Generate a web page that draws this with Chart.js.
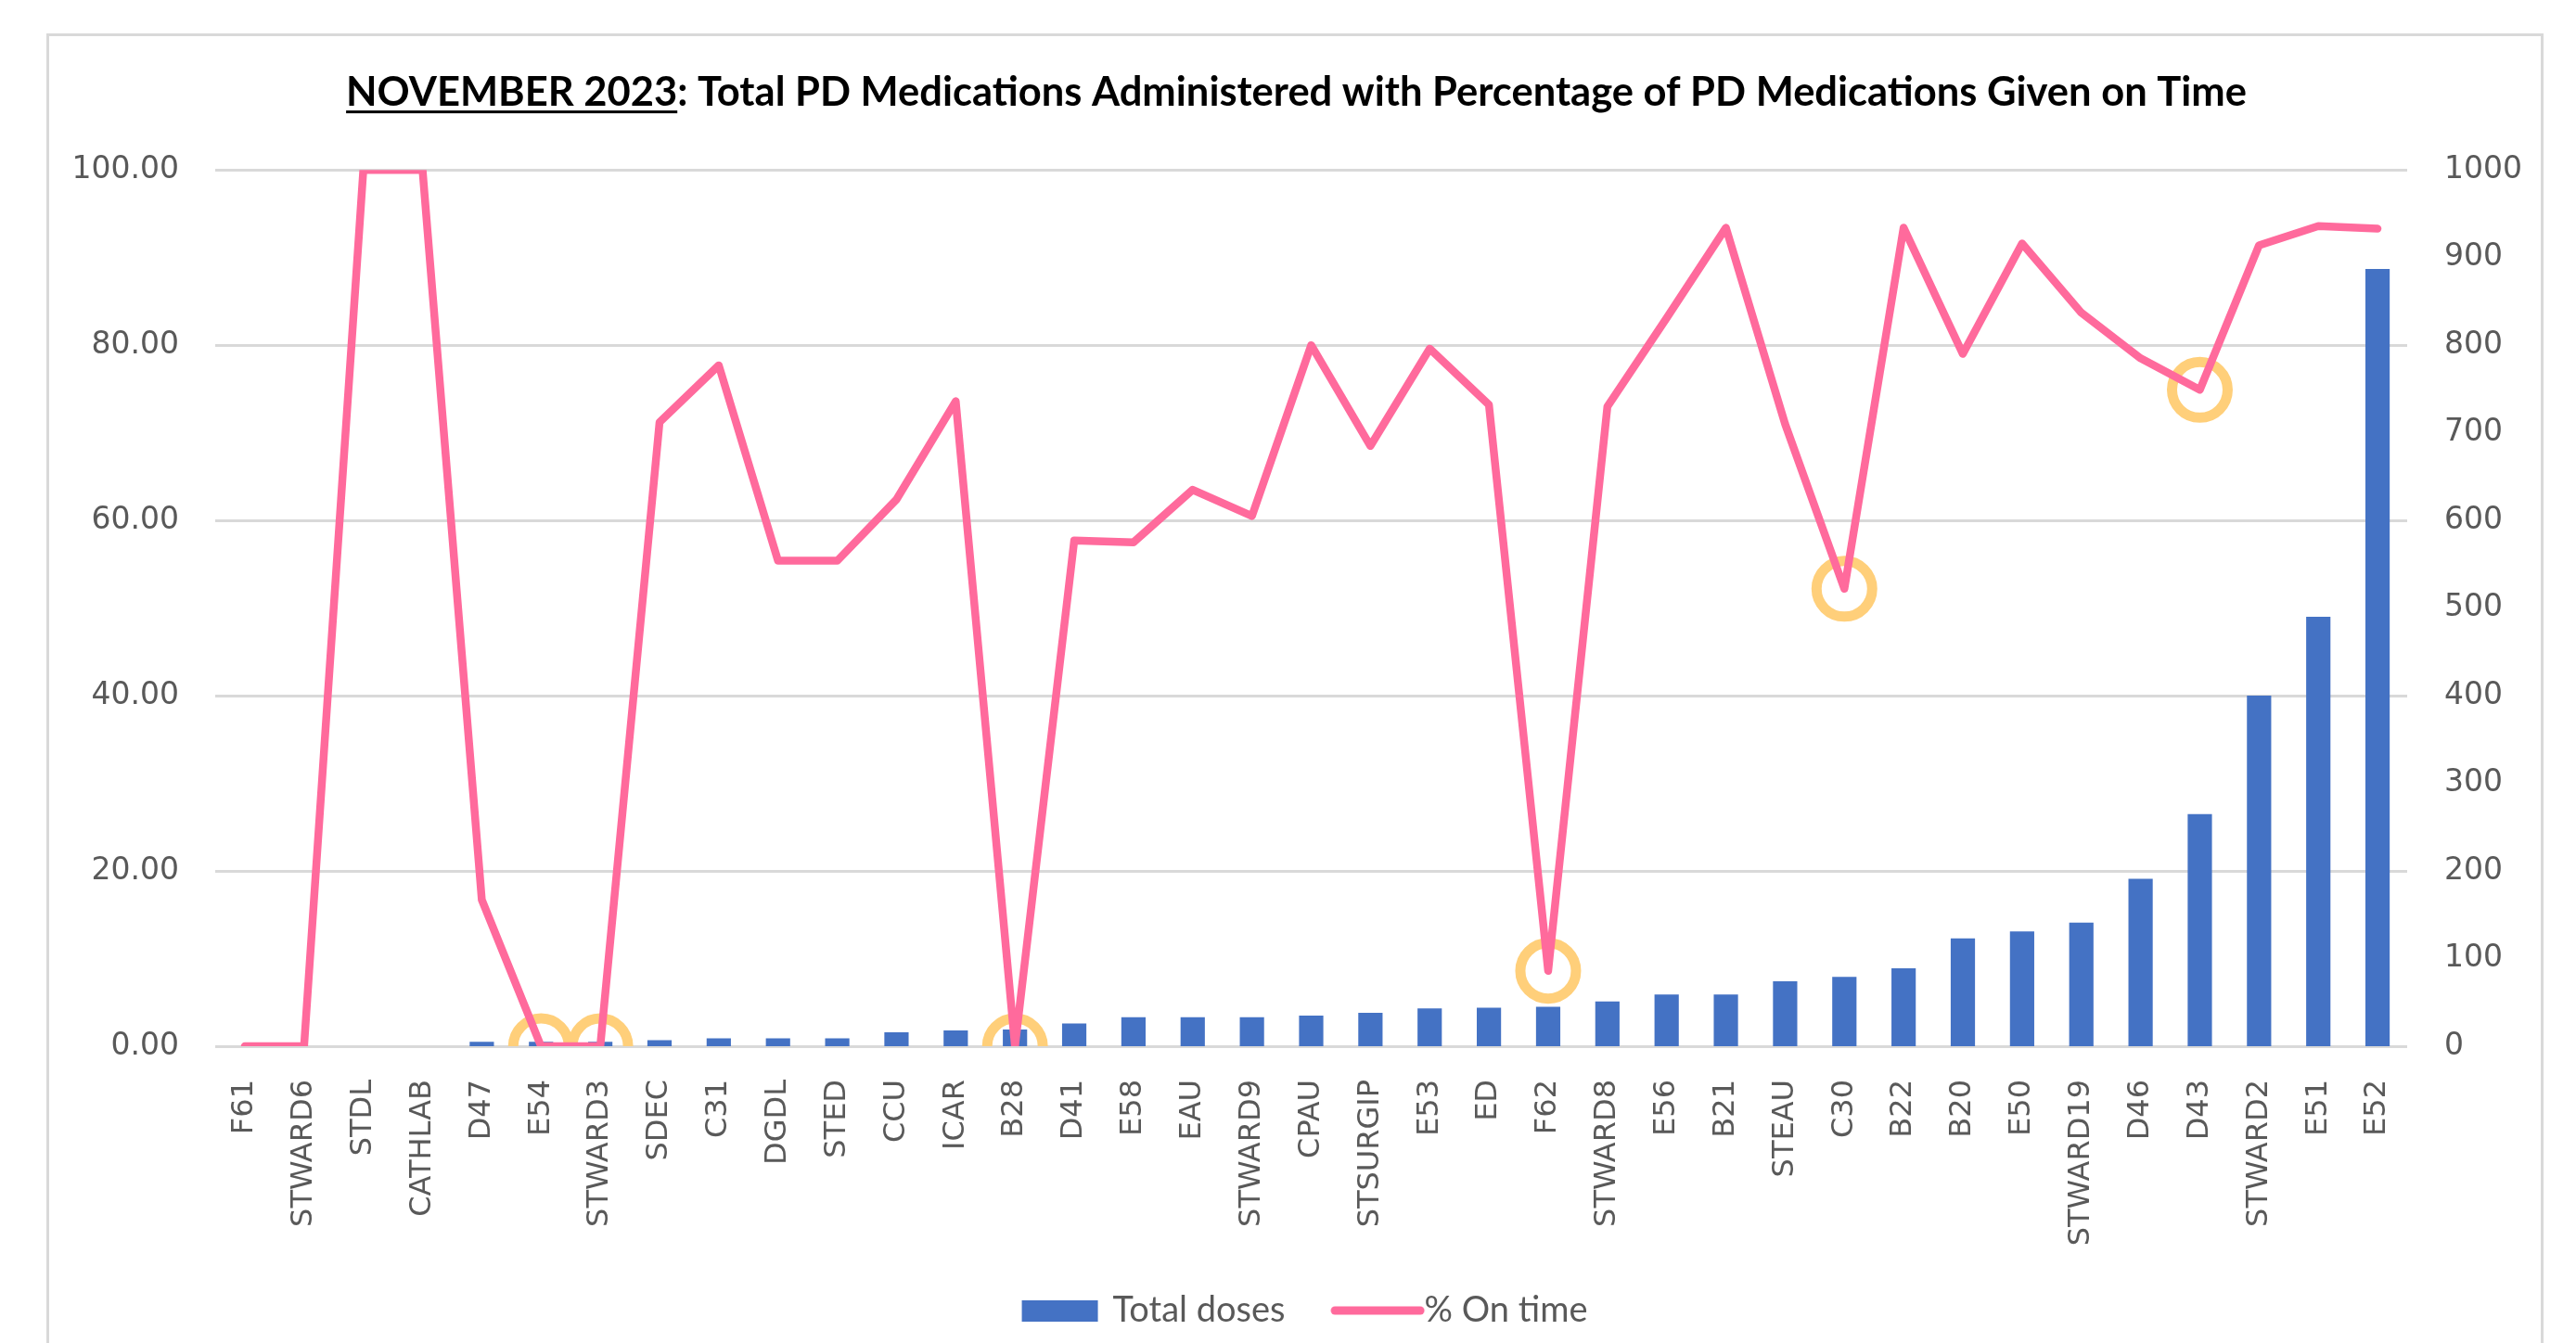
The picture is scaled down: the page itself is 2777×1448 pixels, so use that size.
<!DOCTYPE html>
<html>
<head>
<meta charset="utf-8">
<script src="https://cdn.jsdelivr.net/npm/chart.js@4.4.0/dist/chart.umd.min.js"></script>
<style>
  html, body { margin: 0; padding: 0; background: #ffffff; overflow: hidden; }
  #wrap { position: relative; width: 2777px; height: 1448px; }
  #frame { position: absolute; left: 50px; top: 36px; width: 2692px; height: 1500px; border: 3px solid #D9D9D9; box-sizing: border-box; }
  canvas { position: absolute; left: 0; top: 0; }
</style>
</head>
<body>
<div id="wrap">
  <div id="frame"></div>
  <canvas id="c" width="2777" height="1448"></canvas>
</div>
<script>
// ---- DATA ----
const wards = ['F61','STWARD6','STDL','CATHLAB','D47','E54','STWARD3','SDEC','C31','DGDL','STED','CCU','ICAR','B28','D41','E58','EAU','STWARD9','CPAU','STSURGIP','E53','ED','F62','STWARD8','E56','B21','STEAU','C30','B22','B20','E50','STWARD19','D46','D43','STWARD2','E51','E52'];
const totalDoses = [0,0,0,0,5,5,5,7,9,9,9,16,18,19,26,33,33,33,35,38,43,44,45,51,59,59,74,79,89,123,131,141,191,265,400,490,887];
const pctOnTime = [0,0,100,100,16.7,0,0,71.2,77.7,55.4,55.4,62.4,73.6,0,57.7,57.5,63.5,60.5,80.0,68.5,79.6,73.2,8.6,73.0,83.1,93.4,71.0,52.2,93.4,79.0,91.6,83.7,78.5,74.9,91.4,93.6,93.3];
const circledWards = ['E54','STWARD3','B28','F62','C30','D43'];
const leftTicks = [0, 20, 40, 60, 80, 100];
const rightTicks = [0, 100, 200, 300, 400, 500, 600, 700, 800, 900, 1000];
const titleMain = 'NOVEMBER 2023';
const titleRest = ': Total PD Medications Administered with Percentage of PD Medications Given on Time';
const seriesNames = ['Total doses', '% On time'];

// ---- STYLE ----
const BLUE = '#4472C4';
const PINK = '#FF6A9C';
const ORANGE = '#FFCF7A';
const GRID = '#D9D9D9';
const TICK = '#595959';
const TITLE_FONT = { family: 'Lato', size: 43.5, weight: 'bold' };

const circled = wards.map((w, i) => circledWards.includes(w) ? pctOnTime[i] : null);

function makeIcon(w, h, draw) {
  const c = document.createElement('canvas');
  c.width = w; c.height = h;
  draw(c.getContext('2d'));
  return c;
}
const barIcon = makeIcon(115, 23, ctx => { ctx.fillStyle = BLUE; ctx.fillRect(27, 0, 82, 23); });
const lineIcon = makeIcon(240, 12, ctx => {
  ctx.strokeStyle = PINK; ctx.lineWidth = 9; ctx.lineCap = 'round';
  ctx.beginPath(); ctx.moveTo(91, 6); ctx.lineTo(183, 6); ctx.stroke();
});
const legendIcons = [barIcon, lineIcon];

const underlinePlugin = {
  id: 'titleUnderline',
  afterDraw(chart) {
    const tb = chart.titleBlock;
    if (!tb) return;
    const ctx = chart.ctx;
    const font = `${TITLE_FONT.weight} ${TITLE_FONT.size}px ${TITLE_FONT.family}`;
    ctx.save();
    ctx.font = font;
    const full = ctx.measureText(titleMain + titleRest).width;
    const part = ctx.measureText(titleMain).width;
    ctx.textBaseline = 'middle';
    const m = ctx.measureText('N');
    const lineHeight = TITLE_FONT.size * 1.2;
    const titleY = tb.top + tb.options.padding.top + lineHeight / 2;
    const cx = (tb.left + tb.right) / 2;
    const x0 = cx - full / 2;
    const y = titleY + m.actualBoundingBoxDescent + 5;
    ctx.fillStyle = '#000';
    ctx.fillRect(x0, y, part, 3);
    ctx.restore();
  }
};

new Chart(document.getElementById('c'), {
  data: {
    labels: wards,
    datasets: [
      {
        type: 'bar', label: seriesNames[0], data: totalDoses, yAxisID: 'y1',
        backgroundColor: BLUE, borderWidth: 0,
        categoryPercentage: 1.0, barPercentage: 0.41, order: 3
      },
      {
        type: 'line', label: seriesNames[1], data: pctOnTime, yAxisID: 'y',
        borderColor: PINK, backgroundColor: PINK, borderWidth: 8.5,
        pointRadius: 0, tension: 0, borderJoinStyle: 'round', borderCapStyle: 'round', order: 1
      },
      {
        type: 'line', label: 'circled', data: circled, yAxisID: 'y',
        showLine: false, pointRadius: 30, pointHoverRadius: 30,
        pointBorderWidth: 11, pointBorderColor: ORANGE, pointBackgroundColor: 'rgba(0,0,0,0)', order: 2
      }
    ]
  },
  options: {
    responsive: false,
    animation: false,
    events: [],
    layout: { padding: { top: 0, left: 18, right: 0, bottom: 6 } },
    plugins: {
      tooltip: { enabled: false },
      title: {
        display: true,
        text: titleMain + titleRest,
        color: '#000000',
        font: TITLE_FONT,
        padding: { top: 74, bottom: 57 }
      },
      legend: {
        display: true,
        position: 'bottom',
        labels: {
          usePointStyle: true,
          pointStyleWidth: 97,
          padding: 34,
          color: TICK,
          font: { family: 'Lato', size: 38 },
          generateLabels(chart) {
            const items = Chart.defaults.plugins.legend.labels.generateLabels(chart);
            return items
              .filter(it => it.datasetIndex < 2)
              .sort((a, b) => a.datasetIndex - b.datasetIndex)
              .map(it => Object.assign(it, { pointStyle: legendIcons[it.datasetIndex], lineWidth: 0 }));
          }
        }
      }
    },
    scales: {
      x: {
        grid: { display: false },
        border: { display: false },
        ticks: {
          autoSkip: false, maxRotation: 90, minRotation: 90, padding: 28,
          color: TICK, font: { family: 'DejaVu Sans', size: 32 }
        },
        afterFit(scale) { scale.height = 232; }
      },
      y: {
        position: 'left', min: 0, max: 100,
        afterBuildTicks(scale) { scale.ticks = leftTicks.map(v => ({ value: v })); },
        grid: { color: GRID, lineWidth: 3, drawTicks: false },
        border: { display: false },
        ticks: {
          padding: 39, color: TICK, font: { family: 'DejaVu Sans', size: 33 },
          callback: v => Number(v).toFixed(2)
        },
        afterFit(scale) { scale.width = 214; }
      },
      y1: {
        position: 'right', min: 0, max: 1000,
        afterBuildTicks(scale) { scale.ticks = rightTicks.map(v => ({ value: v })); },
        grid: { display: false, drawTicks: false },
        border: { display: false },
        ticks: {
          padding: 40, color: TICK, font: { family: 'DejaVu Sans', size: 33 },
          callback: v => String(v)
        },
        afterFit(scale) { scale.width = 182; }
      }
    }
  },
  plugins: [underlinePlugin]
});
</script>
</body>
</html>
